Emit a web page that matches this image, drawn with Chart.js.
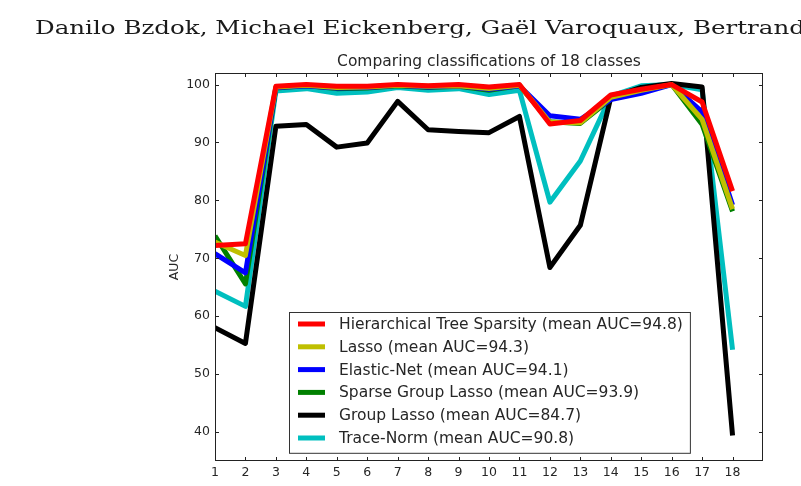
<!DOCTYPE html>
<html>
<head>
<meta charset="utf-8">
<script src="https://cdn.jsdelivr.net/npm/chart.js@4.4.1/dist/chart.umd.min.js"></script>
<style>
  html, body { margin: 0; padding: 0; background: #fff; }
  #wrap { position: relative; width: 801px; height: 486px; overflow: hidden; }
  #header {
    position: absolute; left: 35px; top: 16px;
    font-family: "DejaVu Serif", serif; font-size: 19px; color: #1a1a1a;
    white-space: nowrap; transform-origin: 0 0;
  }
  canvas { position: absolute; left: 0; top: 0; }
</style>
</head>
<body>
<div id="wrap">
  <canvas id="auc" width="801" height="486"></canvas>
  <span id="header">Danilo Bzdok, Michael Eickenberg, Gaël Varoquaux, Bertrand</span>
</div>
<script>
// header line from the page, stretched to its width in the scan
const hdr = document.getElementById("header");
hdr.style.transform = "scaleX(" + (770 / hdr.getBoundingClientRect().width) + ")";

// data
const classes = [1, 2, 3, 4, 5, 6, 7, 8, 9, 10, 11, 12, 13, 14, 15, 16, 17, 18];
const xTicks = [1, 2, 3, 4, 5, 6, 7, 8, 9, 10, 11, 12, 13, 14, 15, 16, 17, 18];
const yTicks = [40, 50, 60, 70, 80, 90, 100];

const hts = [72.2, 72.5, 99.7, 100, 99.7, 99.7, 100, 99.8, 100, 99.6, 100, 93.2, 93.8, 98.2, 99.2, 100, 97.0, 81.6];
const lasso = [72.8, 70.5, 99.6, 99.9, 99.5, 99.6, 99.9, 99.7, 99.8, 99.3, 99.9, 93.5, 93.4, 97.8, 99.0, 100, 94.0, 78.5];
const enet = [70.8, 67.5, 99.5, 99.8, 99.4, 99.5, 99.9, 99.6, 99.8, 99.2, 99.8, 94.6, 94.0, 97.4, 98.5, 100, 95.3, 79.2];
const sgl = [73.9, 65.6, 99.4, 99.8, 99.3, 99.4, 99.8, 99.5, 99.7, 99.0, 99.8, 93.6, 93.3, 97.5, 99.0, 100, 93.1, 78.1];
const groupLasso = [58.0, 55.3, 92.8, 93.1, 89.2, 89.9, 97.1, 92.2, 91.9, 91.7, 94.5, 68.4, 75.7, 97.8, 99.5, 100.2, 99.6, 39.4];
const traceNorm = [64.3, 61.7, 98.9, 99.3, 98.5, 98.7, 99.5, 99.0, 99.3, 98.3, 99.0, 79.7, 86.8, 98.0, 99.8, 100, 99.1, 54.2];

const seriesLabels = [
  "Hierarchical Tree Sparsity (mean AUC=94.8)",
  "Lasso (mean AUC=94.3)",
  "Elastic-Net (mean AUC=94.1)",
  "Sparse Group Lasso (mean AUC=93.9)",
  "Group Lasso (mean AUC=84.7)",
  "Trace-Norm (mean AUC=90.8)"
];
const seriesValues = [hts, lasso, enet, sgl, groupLasso, traceNorm];
const colors = ["#ff0000", "#bfbf00", "#0000ff", "#008000", "#000000", "#00bfbf"];

const FONT = "'DejaVu Sans', sans-serif";
const TXT = "#262626";

const datasets = seriesValues.map((vals, i) => ({
  label: seriesLabels[i],
  data: classes.map((c, j) => ({ x: c, y: vals[j] })),
  borderColor: colors[i],
  backgroundColor: colors[i],
  borderWidth: 5,
  borderJoinStyle: "round",
  pointRadius: 0,
  tension: 0,
  fill: false
}));

// frame, inward ticks, title, y label and matplotlib style legend
const decor = {
  id: "decor",
  afterDatasetsDraw(chart) {
    const ctx = chart.ctx;
    const a = chart.chartArea;
    const xs = chart.scales.x, ys = chart.scales.y;
    ctx.save();
    ctx.strokeStyle = "#222";
    ctx.lineWidth = 1;
    ctx.strokeRect(a.left + 0.5, a.top + 0.5, a.right - a.left - 1, a.bottom - a.top - 1);
    ctx.beginPath();
    xTicks.forEach(v => {
      const px = Math.round(xs.getPixelForValue(v)) + 0.5;
      ctx.moveTo(px, a.bottom); ctx.lineTo(px, a.bottom - 4);
      ctx.moveTo(px, a.top); ctx.lineTo(px, a.top + 4);
    });
    yTicks.forEach(v => {
      const py = Math.round(ys.getPixelForValue(v)) + 0.5;
      ctx.moveTo(a.left, py); ctx.lineTo(a.left + 4, py);
      ctx.moveTo(a.right, py); ctx.lineTo(a.right - 4, py);
    });
    ctx.stroke();

    // title
    ctx.fillStyle = TXT;
    ctx.font = "15.5px " + FONT;
    ctx.textAlign = "center";
    ctx.textBaseline = "middle";
    ctx.fillText("Comparing classifications of 18 classes", (a.left + a.right) / 2, 62);

    // y label
    ctx.save();
    ctx.translate(175, (a.top + a.bottom) / 2);
    ctx.rotate(-Math.PI / 2);
    ctx.font = "12.5px " + FONT;
    ctx.fillText("AUC", 0, 0);
    ctx.restore();

    // legend, lower center
    ctx.font = "15.5px " + FONT;
    const ds = chart.data.datasets;
    let maxW = 0;
    ds.forEach(d => { maxW = Math.max(maxW, ctx.measureText(d.label).width); });
    const rowH = 22.8;
    const w = 9 + 27 + 14 + maxW + 7;
    const h = ds.length * rowH + 4;
    const bx = Math.round((a.left + a.right) / 2 - w / 2);
    const by = Math.round(a.bottom - 8 - h);
    ctx.fillStyle = "#fff";
    ctx.fillRect(bx, by, w, h);
    ctx.strokeStyle = "#333";
    ctx.lineWidth = 1;
    ctx.strokeRect(bx + 0.5, by + 0.5, w, h);
    ctx.textAlign = "left";
    ds.forEach((d, i) => {
      const cy = by + 12 + i * rowH;
      ctx.strokeStyle = d.borderColor;
      ctx.lineWidth = 5;
      ctx.beginPath();
      ctx.moveTo(bx + 9, cy); ctx.lineTo(bx + 36, cy);
      ctx.stroke();
      ctx.fillStyle = TXT;
      ctx.fillText(d.label, bx + 50, cy + 1);
    });
    ctx.restore();
  }
};

new Chart(document.getElementById("auc"), {
  type: "line",
  data: { datasets: datasets },
  options: {
    responsive: false,
    animation: false,
    devicePixelRatio: 1,
    layout: { padding: { top: 73, right: 38, left: 0, bottom: 0 } },
    plugins: {
      legend: { display: false },
      tooltip: { enabled: false }
    },
    scales: {
      x: {
        type: "linear",
        min: 1,
        max: 19,
        afterBuildTicks: s => { s.ticks = xTicks.map(v => ({ value: v })); },
        afterFit: s => { s.height = 25; },
        grid: { display: false, drawTicks: false },
        border: { display: false },
        ticks: { color: TXT, font: { family: FONT, size: 12.5 }, padding: 4, maxRotation: 0, autoSkip: false }
      },
      y: {
        min: 35,
        max: 102,
        afterBuildTicks: s => { s.ticks = yTicks.map(v => ({ value: v })); },
        afterFit: s => { s.width = 215; },
        grid: { display: false, drawTicks: false },
        border: { display: false },
        ticks: { color: TXT, font: { family: FONT, size: 12.5 }, padding: 5 }
      }
    }
  },
  plugins: [decor]
});
</script>
</body>
</html>
